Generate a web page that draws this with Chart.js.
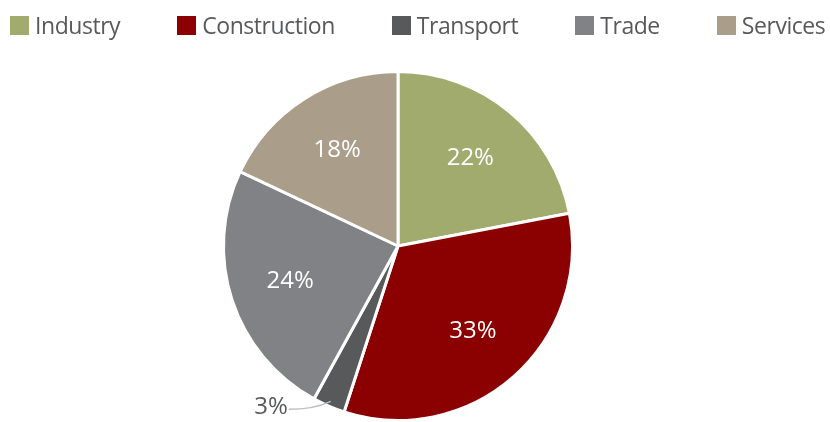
<!DOCTYPE html>
<html>
<head>
<meta charset="utf-8">
<script src="https://cdn.jsdelivr.net/npm/chart.js@4"></script>
<style>
  html, body { margin: 0; padding: 0; background: #fff; }
  #wrap { position: relative; width: 830px; height: 422px; overflow: hidden; }
  #legend { position: absolute; left: 10px; top: 7px; display: flex; font-family: "Open Sans", sans-serif; font-size: 23px; letter-spacing: -0.45px; color: #58595b; white-space: nowrap; }
  .item { display: flex; align-items: center; margin-right: 57px; height: 36px; }
  .item:last-child { margin-right: 0; }
  .box { width: 19px; height: 19px; margin-right: 6px; }
  canvas { position: absolute; left: 0; top: 0; }
</style>
</head>
<body>
<div id="wrap">
  <canvas id="chart" width="830" height="422"></canvas>
  <div id="legend"></div>
</div>
<script>
const categories = ["Industry", "Construction", "Transport", "Trade", "Services"];
const shares = [22, 33, 3, 24, 18];
const colors = ["#a2ab6e", "#8b0000", "#58595b", "#808285", "#aa9e8b"];

function renderLegend() {
  const host = document.getElementById("legend");
  categories.forEach((name, i) => {
    const el = document.createElement("div");
    el.className = "item";
    el.innerHTML = `<span class="box" style="background:${colors[i]}"></span><span>${name}</span>`;
    host.appendChild(el);
  });
}

// percent labels: inside big slices, outside with a leader line for small ones
const sliceLabels = {
  id: "sliceLabels",
  afterDatasetsDraw(chart) {
    const ctx = chart.ctx;
    const arcs = chart.getDatasetMeta(0).data;
    ctx.save();
    ctx.font = '24px "Open Sans", sans-serif';
    ctx.textBaseline = "middle";
    arcs.forEach((arc, i) => {
      const { x, y, startAngle, endAngle, outerRadius } = arc.getProps(["x", "y", "startAngle", "endAngle", "outerRadius"], true);
      const mid = (startAngle + endAngle) / 2;
      const text = `${shares[i]}%`;
      if (shares[i] < 5) {
        const ex = x + Math.cos(mid) * outerRadius * 0.97;
        const ey = y + Math.sin(mid) * outerRadius * 0.97;
        const lx = ex - 42;
        const ly = ey + 8;
        ctx.strokeStyle = "#bcbec0";
        ctx.lineWidth = 1.5;
        ctx.beginPath();
        ctx.moveTo(lx, ly);
        ctx.quadraticCurveTo(lx + 25, ly, ex, ey);
        ctx.stroke();
        ctx.fillStyle = "#58595b";
        ctx.textAlign = "right";
        ctx.fillText(text, lx - 1, ly - 2);
      } else {
        const r = outerRadius * 0.65;
        ctx.fillStyle = "#ffffff";
        ctx.textAlign = "center";
        ctx.fillText(text, x + Math.cos(mid) * r, y + Math.sin(mid) * r);
      }
    });
    ctx.restore();
  }
};

renderLegend();

new Chart(document.getElementById("chart"), {
  type: "pie",
  data: {
    labels: categories,
    datasets: [{
      data: shares,
      backgroundColor: colors,
      borderColor: "#ffffff",
      borderWidth: 3,
    }],
  },
  options: {
    responsive: false,
    animation: false,
    layout: { padding: { top: 70, bottom: -8, left: 0, right: 34 } },
    plugins: { legend: { display: false }, tooltip: { enabled: false } },
  },
  plugins: [sliceLabels],
});
</script>
</body>
</html>
